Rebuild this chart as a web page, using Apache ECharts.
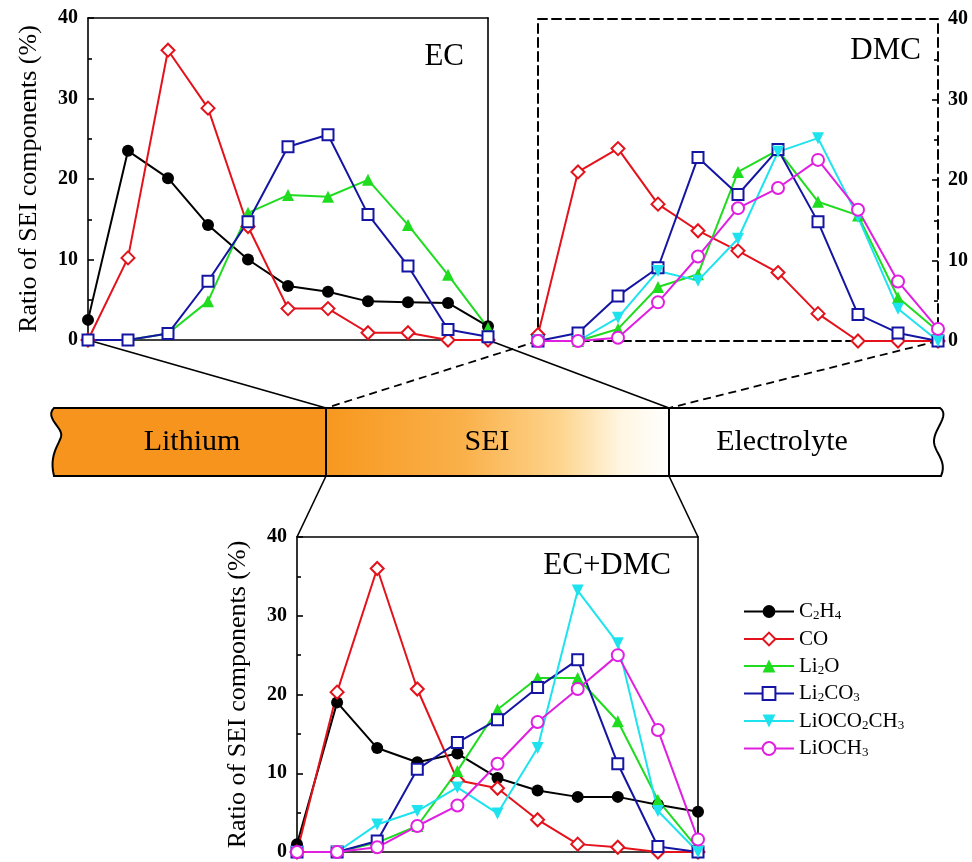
<!DOCTYPE html>
<html><head><meta charset="utf-8">
<script src="https://cdn.jsdelivr.net/npm/echarts@6/dist/echarts.min.js"></script>
<style>html,body{margin:0;padding:0;background:#fff}#c{width:972px;height:862px}</style>
</head><body><div id="c"></div>
<script>
// ---------- data ----------
const depthSteps = [0, 1, 2, 3, 4, 5, 6, 7, 8, 9, 10];
const componentNames = ['C2H4', 'CO', 'Li2O', 'Li2CO3', 'LiOCO2CH3', 'LiOCH3'];
const panelTitles = ['EC', 'DMC', 'EC+DMC'];
const layerLabels = ['Lithium', 'SEI', 'Electrolyte'];
const yAxisName = 'Ratio of SEI components (%)';

// EC
const ecC2H4   = [2.5, 23.5, 20.1, 14.3, 10.0, 6.7, 6.0, 4.8, 4.7, 4.6, 1.7];
const ecCO     = [0, 10.2, 36.0, 28.8, 14.1, 3.9, 3.9, 0.9, 0.9, 0, 0];
const ecLi2O   = [0, 0, 0.8, 4.8, 15.8, 18.0, 17.8, 19.9, 14.3, 8.1, 1.5];
const ecLi2CO3 = [0, 0, 0.8, 7.3, 14.7, 24.0, 25.5, 15.6, 9.2, 1.3, 0.4];
// DMC
const dmcCO        = [0.8, 21.0, 23.9, 17.0, 13.7, 11.2, 8.5, 3.4, 0, 0, 0];
const dmcLi2O      = [0, 0, 1.5, 6.7, 8.3, 21.0, 23.7, 17.3, 15.6, 5.4, 1.2];
const dmcLi2CO3    = [0, 1.0, 5.6, 9.1, 22.8, 18.2, 23.8, 14.8, 3.3, 1.0, 0];
const dmcLiOCO2CH3 = [0, 0, 2.9, 8.7, 7.5, 12.7, 23.5, 25.2, 15.4, 4.0, 0];
const dmcLiOCH3    = [0, 0, 0.4, 4.8, 10.5, 16.5, 19.0, 22.5, 16.3, 7.4, 1.5];
// EC+DMC
const mixC2H4      = [1.0, 19.0, 13.2, 11.4, 12.5, 9.4, 7.8, 7.0, 7.0, 6.0, 5.1];
const mixCO        = [0, 20.3, 36.0, 20.7, 9.1, 8.1, 4.1, 1.0, 0.6, 0, 0];
const mixLi2O      = [0, 0, 1.2, 3.3, 10.3, 18.1, 22.1, 22.1, 16.6, 6.6, 0.4];
const mixLi2CO3    = [0, 0, 1.4, 10.5, 13.9, 16.8, 20.9, 24.4, 11.2, 0.7, 0];
const mixLiOCO2CH3 = [0, 0, 3.5, 5.2, 8.2, 4.9, 13.2, 33.2, 26.5, 5.2, 0];
const mixLiOCH3    = [0, 0, 0.6, 3.3, 5.9, 11.2, 16.5, 20.7, 25.0, 15.5, 1.6];

// ---------- styles / layout ----------
const FONT = "'Liberation Serif', 'Times New Roman', serif";
const styleMap = {
  C2H4:      { color: '#000000', symbol: 'circle', size: 12 },
  CO:        { color: '#e3121b', symbol: 'emptyDiamond', size: 13 },
  Li2O:      { color: '#1fdc1f', symbol: 'triangle', size: 12 },
  Li2CO3:    { color: '#1515a3', symbol: 'emptyRect', size: 11 },
  LiOCO2CH3: { color: '#1ee3ee', symbol: 'triangle', size: 12, rotate: 180 },
  LiOCH3:    { color: '#e01fe0', symbol: 'emptyCircle', size: 12 }
};
const grids = [
  { left: 88, top: 18, width: 400, height: 322 },
  { left: 538, top: 19, width: 400, height: 322 },
  { left: 297, top: 537, width: 401, height: 323 }
];
const panelDashed = [false, true, false];
const panelLabelSide = ['left', 'right', 'left'];
const band = { top: 408, bottom: 476, div1: 326, div2: 669 };

const panelData = [
  [['C2H4', ecC2H4], ['CO', ecCO], ['Li2O', ecLi2O], ['Li2CO3', ecLi2CO3]],
  [['CO', dmcCO], ['Li2O', dmcLi2O], ['Li2CO3', dmcLi2CO3], ['LiOCO2CH3', dmcLiOCO2CH3], ['LiOCH3', dmcLiOCH3]],
  [['C2H4', mixC2H4], ['CO', mixCO], ['Li2O', mixLi2O], ['Li2CO3', mixLi2CO3], ['LiOCO2CH3', mixLiOCO2CH3], ['LiOCH3', mixLiOCH3]]
];

const xAxes = [], yAxes = [], series = [];
grids.forEach((g, gi) => {
  const line = { show: true, onZero: false, lineStyle: { color: '#000', width: panelDashed[gi] ? 2 : 1.6, type: panelDashed[gi] ? [9, 5] : 'solid' } };
  ['bottom', 'top'].forEach(pos => xAxes.push({
    type: 'category', gridIndex: gi, position: pos, data: depthSteps.map(String), boundaryGap: false,
    axisLine: line, axisTick: { show: false }, axisLabel: { show: false }, splitLine: { show: false }
  }));
  const main = panelLabelSide[gi];
  const other = main === 'left' ? 'right' : 'left';
  yAxes.push({
    type: 'value', gridIndex: gi, position: main, min: 0, max: 40, interval: 10,
    name: gi === 1 ? '' : yAxisName, nameLocation: 'middle', nameGap: 46, nameRotate: 90,
    nameTextStyle: { fontFamily: FONT, fontSize: 26, color: '#000' },
    axisLine: line,
    axisTick: { show: true, inside: true, length: 6, lineStyle: { color: '#000', width: 1.6 } },
    minorTick: { show: true, splitNumber: 2, length: 4, lineStyle: { color: '#000', width: 1.6 } },
    axisLabel: { show: true, margin: 10, fontFamily: FONT, fontSize: 20, fontWeight: 'bold', color: '#000' },
    splitLine: { show: false }
  });
  yAxes.push({
    type: 'value', gridIndex: gi, position: other, min: 0, max: 40, interval: 10,
    axisLine: line, axisTick: { show: false }, axisLabel: { show: false }, splitLine: { show: false }
  });
  panelData[gi].forEach(([name, values]) => {
    const st = styleMap[name];
    series.push({
      type: 'line', name, xAxisIndex: gi * 2, yAxisIndex: gi * 2, data: values,
      symbol: st.symbol, symbolSize: st.size, symbolRotate: st.rotate || 0,
      lineStyle: { color: st.color, width: 2 }, itemStyle: { color: st.color, borderWidth: 1 },
      animation: false
    });
  });
});

function richName(name) {
  return name.replace(/([A-Za-z]+)|(\d)/g, (m, a, b) => a ? '{n|' + a + '}' : '{s|' + b + '}');
}

// sampled cubic bezier (decorative band edges)
function cubic(p0, p1, p2, p3, n) {
  const pts = [];
  for (let i = 0; i <= n; i++) {
    const t = i / n, u = 1 - t;
    pts.push([
      u * u * u * p0[0] + 3 * u * u * t * p1[0] + 3 * u * t * t * p2[0] + t * t * t * p3[0],
      u * u * u * p0[1] + 3 * u * u * t * p1[1] + 3 * u * t * t * p2[1] + t * t * t * p3[1]
    ]);
  }
  return pts;
}
const leftEdge = cubic([54, band.top], [44, 418], [64, 428], [61, 437], 12)
  .concat(cubic([61, 437], [58, 446], [49, 456], [54, band.bottom], 12).slice(1)); // top -> bottom
const rightEdge = cubic([940, band.top], [950, 415], [935, 428], [934, 440], 12)
  .concat(cubic([934, 440], [933, 452], [948, 460], [941, band.bottom], 12).slice(1)); // top -> bottom
const lithiumPoly = [[band.div1, band.top], [band.div1, band.bottom]].concat(leftEdge.slice().reverse());
const electrolytePoly = [[band.div2, band.top]].concat(rightEdge).concat([[band.div2, band.bottom]]);
const outlinePoly = rightEdge.concat(leftEdge.slice().reverse());

const g0 = grids[0], g1 = grids[1], g2 = grids[2];
const lineSolid = { stroke: '#000', lineWidth: 1.6 };
const lineDash = { stroke: '#000', lineWidth: 1.8, lineDash: [8, 5] };
const bandFont = '30px ' + FONT;

const option = {
  backgroundColor: '#fff',
  animation: false,
  title: [
    { text: panelTitles[0], right: 972 - 469, top: 36 },
    { text: panelTitles[1], right: 972 - 926, top: 30 },
    { text: panelTitles[2], right: 972 - 676, top: 545 }
  ].map(t => Object.assign(t, { textStyle: { fontFamily: FONT, fontSize: 31, fontWeight: 'normal', color: '#000' } })),
  grid: grids.map(g => Object.assign({ show: false, containLabel: false }, g)),
  xAxis: xAxes,
  yAxis: yAxes,
  legend: {
    data: componentNames, orient: 'vertical', left: 738, top: 596,
    itemWidth: 50, itemHeight: 16, itemGap: 6, selectedMode: false,
    formatter: richName,
    textStyle: {
      rich: {
        n: { fontFamily: FONT, fontSize: 21, color: '#000', lineHeight: 22 },
        s: { fontFamily: FONT, fontSize: 13, color: '#000', lineHeight: 12, verticalAlign: 'bottom' }
      }
    }
  },
  graphic: [
    { type: 'polygon', shape: { points: lithiumPoly }, style: { fill: '#f7941d' } },
    { type: 'rect', shape: { x: band.div1, y: band.top, width: band.div2 - band.div1, height: band.bottom - band.top },
      style: { fill: { type: 'linear', x: 0, y: 0, x2: 1, y2: 0, colorStops: [
        { offset: 0, color: '#f7981f' }, { offset: 0.4, color: '#fab04a' }, { offset: 0.68, color: '#fdd48c' },
        { offset: 0.86, color: '#fff6e2' }, { offset: 1, color: '#ffffff' }] } } },
    { type: 'polygon', shape: { points: electrolytePoly }, style: { fill: '#ffffff' } },
    { type: 'polygon', shape: { points: outlinePoly }, style: { fill: 'none', stroke: '#000', lineWidth: 2 } },
    { type: 'line', shape: { x1: band.div1, y1: band.top, x2: band.div1, y2: band.bottom }, style: { stroke: '#000', lineWidth: 2 } },
    { type: 'line', shape: { x1: band.div2, y1: band.top, x2: band.div2, y2: band.bottom }, style: { stroke: '#000', lineWidth: 2 } },
    { type: 'text', x: 192, y: 442, style: { text: layerLabels[0], font: bandFont, fill: '#000', textAlign: 'center', textVerticalAlign: 'middle' } },
    { type: 'text', x: 487, y: 442, style: { text: layerLabels[1], font: bandFont, fill: '#000', textAlign: 'center', textVerticalAlign: 'middle' } },
    { type: 'text', x: 782, y: 442, style: { text: layerLabels[2], font: bandFont, fill: '#000', textAlign: 'center', textVerticalAlign: 'middle' } },
    { type: 'line', shape: { x1: g0.left, y1: g0.top + g0.height, x2: band.div1, y2: band.top }, style: lineSolid },
    { type: 'line', shape: { x1: g0.left + g0.width, y1: g0.top + g0.height, x2: band.div2, y2: band.top }, style: lineSolid },
    { type: 'line', shape: { x1: g1.left, y1: g1.top + g1.height, x2: band.div1, y2: band.top }, style: lineDash },
    { type: 'line', shape: { x1: g1.left + g1.width, y1: g1.top + g1.height, x2: band.div2, y2: band.top }, style: lineDash },
    { type: 'line', shape: { x1: band.div1, y1: band.bottom, x2: g2.left, y2: g2.top }, style: lineSolid },
    { type: 'line', shape: { x1: band.div2, y1: band.bottom, x2: g2.left + g2.width, y2: g2.top }, style: lineSolid }
  ],
  series: series
};

const chart = echarts.init(document.getElementById('c'), null, { renderer: 'canvas' });
chart.setOption(option);
</script>
</body></html>
